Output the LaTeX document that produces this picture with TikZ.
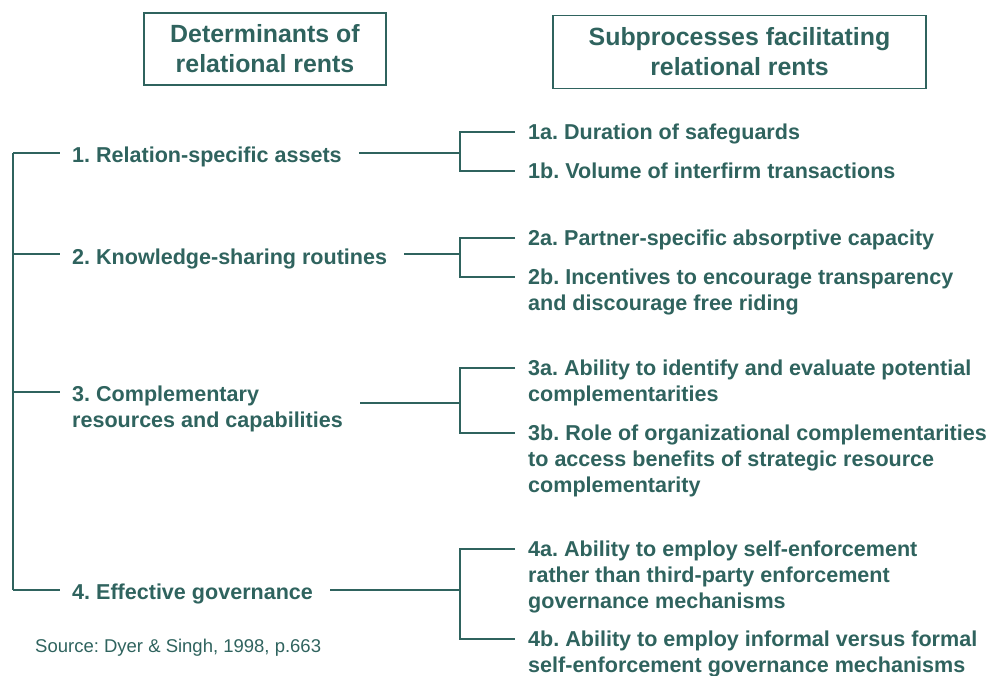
\documentclass[tikz,border=0pt]{standalone}
\usepackage{fontspec}
\setmainfont{Liberation Sans}
\usepackage{xcolor}
\usetikzlibrary{positioning}
\definecolor{rentteal}{RGB}{47,99,94}
\frenchspacing

\begin{document}
\begin{tikzpicture}[x=1pt,y=-1pt,
header/.style={draw=rentteal,line width=1.3pt,align=center,inner sep=0pt,text=rentteal,
  font=\fontsize{24.9}{30}\selectfont\bfseries},
det/.style={anchor=base west,align=left,inner sep=0pt,text=rentteal,
  font=\fontsize{21.55}{26}\selectfont\bfseries},
link/.style={draw=rentteal,line width=1.3pt}]
\useasboundingbox (0,0) rectangle (991,675);
% Intestazioni
\node[header,minimum width=242pt,minimum height=72pt] (hl) at (265,49) {Determinants of\\relational rents};
\node[header,minimum width=373pt,minimum height=73pt] (hr) at (739.5,52) {Subprocesses facilitating\\relational rents};
% Determinanti (ancorati all'ultima riga)
\node[det] (d1) at (72,162) {1. Relation-specific assets};
\node[det] (d2) at (72,264) {2. Knowledge-sharing routines};
\node[det] (d3) at (72,427) {3. Complementary\\resources and capabilities};
\node[det] (d4) at (72,599) {4. Effective governance};
% Sottoprocessi
\node[det] (s1a) at (528,139) {1a. Duration of safeguards};
\node[det] (s1b) at (528,178) {1b. Volume of interfirm transactions};
\node[det] (s2a) at (528,245) {2a. Partner-specific absorptive capacity};
\node[det] (s2b) at (528,310) {2b. Incentives to encourage transparency\\and discourage free riding};
\node[det] (s3a) at (528,401) {3a. Ability to identify and evaluate potential\\complementarities};
\node[det] (s3b) at (528,492) {3b. Role of organizational complementarities\\to access benefits of strategic resource\\complementarity};
\node[det] (s4a) at (528,608) {4a. Ability to employ self-enforcement\\rather than third-party enforcement\\governance mechanisms};
\node[det] (s4b) at (528,672) {4b. Ability to employ informal versus formal\\self-enforcement governance mechanisms};
\node[anchor=base west,inner sep=0pt,text=rentteal,font=\fontsize{18.5}{22}\selectfont] (src) at (35,652) {Source: Dyer \& Singh, 1998, p.663};
% Linea verticale a sinistra
\coordinate (l1) at (13,153);
\coordinate (l2) at (13,254);
\coordinate (l3) at (13,392);
\coordinate (l4) at (13,590);
\draw[link] (l1) -- (l4);
\foreach \i in {1,...,4}
  \draw[link,shorten >=12pt] (l\i) -- (l\i -| d\i.west);
% Parentesi verso i sottoprocessi (\na, \nb: righe sopra l'ultima)
\coordinate (j1) at (460,153);
\coordinate (j2) at (460,254);
\coordinate (j3) at (460,403);
\coordinate (j4) at (460,590);
\foreach \i/\na/\nb in {1/0/0,2/0/1,3/1/2,4/2/1}{
  \draw[link,shorten <=17pt] (d\i.east |- j\i) -- (j\i);
  \draw[link,shorten <=13pt,shorten >=13pt] ([yshift={(7+26*\na)*1pt}]s\i a.base west) -| (j\i)
    |- ([yshift={(7+26*\nb)*1pt}]s\i b.base west);
}
\end{tikzpicture}
\end{document}
